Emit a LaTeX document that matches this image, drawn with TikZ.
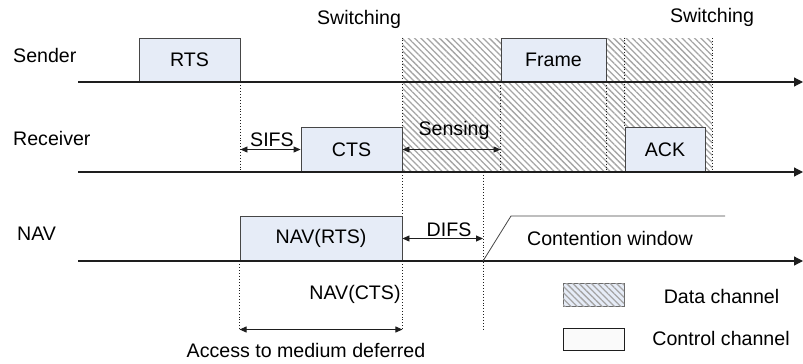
\documentclass[tikz,border=0pt]{standalone}
\usepackage{fontspec}
\setmainfont{Liberation Sans}
\usetikzlibrary{arrows.meta,patterns.meta}
\definecolor{boxblue}{RGB}{230,236,247}
\definecolor{linegray}{RGB}{30,30,30}
\definecolor{edgegray}{RGB}{70,70,70}
\definecolor{hatchgray}{RGB}{165,165,165}
\definecolor{ctrlfill}{RGB}{250,250,250}
\begin{document}
\begin{tikzpicture}[x=1pt,y=-1pt,
  lbl/.style={font=\fontsize{19.6}{22}\selectfont, inner sep=0pt},
  pbox/.style={draw=edgegray, line width=0.9pt, fill=boxblue, inner sep=0pt,
               font=\fontsize{19.6}{22}\selectfont},
  axisline/.style={line width=1.2pt, draw=linegray, -{Triangle[length=9pt,width=9pt]}},
  guide/.style={dotted, line width=0.9pt, draw=linegray},
  spanarrow/.style={line width=0.9pt, draw=linegray,
     {Triangle[length=7pt,width=6pt]}-{Triangle[length=7pt,width=6pt]}},
  hatch/.style={pattern={Lines[angle=-45,distance=4.4pt,line width=1.3pt]},
                pattern color=hatchgray}
]
\useasboundingbox (0,0) rectangle (803,364);

% hatched data-channel region
\fill[white] (402.5,38) rectangle (712,172);
\fill[hatch] (402.5,38) rectangle (712,172);

% coordinates
\coordinate (s0) at (78,82);   \coordinate (s1) at (803,82);
\coordinate (r0) at (78,172);  \coordinate (r1) at (803,172);
\coordinate (n0) at (78,261);  \coordinate (n1) at (803,261);
\coordinate (hr) at (712,38);  \coordinate (hrb) at (712,172);
\coordinate (dr) at (483,172); \coordinate (drn) at (483,261);
\coordinate (drb) at (483,330);
\coordinate (acc) at (0,329.5);
\coordinate (cwa) at (511,216); \coordinate (cwb) at (725,216);

% boxes
\node[pbox, minimum width=101pt, minimum height=44pt] (rts) at (189.5,60) {RTS};
\node[pbox, minimum width=101pt, minimum height=45pt] (cts) at (351.5,149.5) {CTS};
\node[pbox, minimum width=105pt, minimum height=44pt] (frame) at (553.5,60) {Frame};
\node[pbox, minimum width=80pt, minimum height=45pt] (ack) at (665,149.5) {ACK};
\node[pbox, minimum width=162pt, minimum height=45pt] (navrts) at (321,238.5) {NAV(RTS)};

% axes
\draw[axisline] (s0) -- (s1);
\draw[axisline] (r0) -- (r1);
\draw[axisline] (n0) -- (n1);

% dotted guides
\draw[guide] (rts.south east) -- (rts.south east |- r0);
\draw[guide] (navrts.south west) -- (navrts.south west |- drb);
\draw[guide] (cts.north east |- frame.north) -- (cts.north east);
\draw[guide] (cts.south east) -- (navrts.north east);
\draw[guide] (navrts.south east) -- (navrts.south east |- drb);
\draw[guide] (dr) -- (drb);
\draw[guide] (frame.south west) -- (frame.south west |- r0);
\draw[guide] (frame.south east) -- (frame.south east |- r0);
\draw[guide] (ack.north west |- frame.north) -- (ack.north west);
\draw[guide] (hr) -- (hrb);

% span arrows
\draw[spanarrow] (cts.west -| rts.east) -- (cts.west);
\draw[spanarrow] (cts.east) -- (cts.east -| frame.west);
\draw[spanarrow] (navrts.east) -- (navrts.east -| dr);
\draw[spanarrow] (navrts.west |- acc) -- (navrts.east |- acc);

% contention window
\draw[line width=0.8pt, draw=edgegray] (drn) -- (cwa) -- (cwb);

% labels
\node[lbl, anchor=base west] (lsender) at (13,62) {Sender};
\node[lbl, anchor=base west] (lreceiver) at (13,145) {Receiver};
\node[lbl, anchor=base west] (lnav) at (17,240) {NAV};
\node[lbl, anchor=base] (lsw1) at (359,24) {Switching};
\node[lbl, anchor=base] (lsw2) at (712,23) {Switching};
\node[lbl, anchor=base] (lsifs) at (272,146.5) {SIFS};
\node[lbl, anchor=base] (lsensing) at (454,135) {Sensing};
\node[lbl, anchor=base] (ldifs) at (449,236.5) {DIFS};
\node[lbl, anchor=base] (lcw) at (610,245) {Contention window};
\node[lbl, anchor=base] (lnavcts) at (355,299) {NAV(CTS)};
\node[lbl, anchor=base] (lacc) at (306,357) {Access to medium deferred};

% legend
\node[draw=edgegray!80, line width=0.9pt, fill=boxblue, inner sep=0pt,
      minimum width=61pt, minimum height=23pt,
      postaction={hatch}] (legdata) at (593.5,294.5) {};
\node[draw=linegray, line width=0.9pt, fill=ctrlfill, inner sep=0pt,
      minimum width=61pt, minimum height=22pt] (legctrl) at (593.5,339) {};
\node[lbl, anchor=base] (ldata) at (721.5,303) {Data channel};
\node[lbl, anchor=base] (lctrl) at (721,345) {Control channel};
\end{tikzpicture}
\end{document}
